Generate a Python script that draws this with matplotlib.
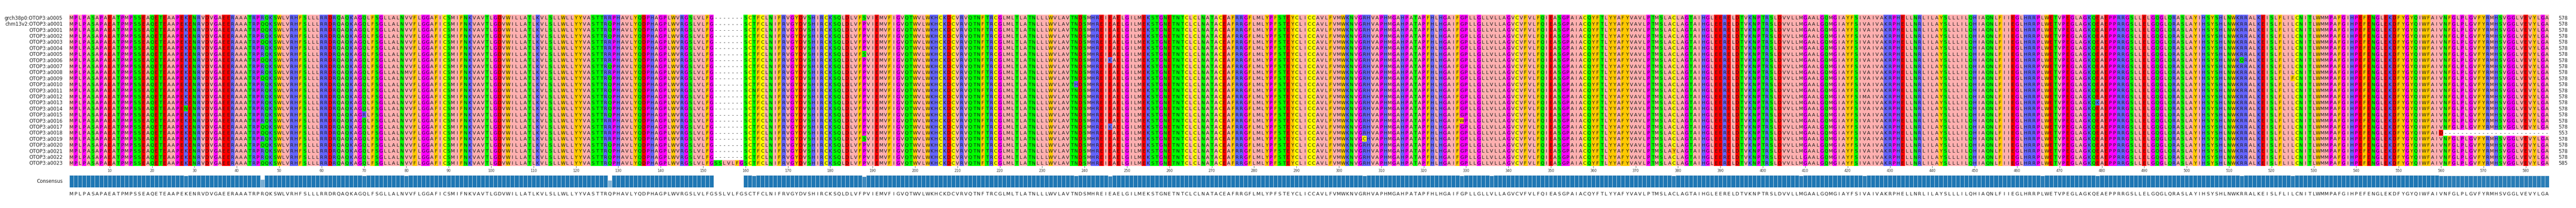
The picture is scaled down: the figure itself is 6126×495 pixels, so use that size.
import numpy as np
import matplotlib
matplotlib.use("Agg")
import matplotlib.pyplot as plt
from matplotlib.colors import to_rgb

row_labels = ["grch38p0:OTOP3:a0005", "chm13v2:OTOP3:a0001"] + ["OTOP3:a%04d" % i for i in range(1, 24)]

consensus_chunks = [
    "MPLPASAPAEATPMPSSEAQETE",
    "AAPEKENRVDVGAEERAAATRPRQKSWLVRHFSLLLRRDRQAQKAGQLFSGLLALNVVF",
    "LGGAFICSMIFNKVAVTLGDVWILLATLKVLSLLWLLYYVASTTRQPHAVLYQDPHA",
    "GPLWVRGSLVLFGSSLVLFGSCTFCLNIFRVGYDVSHIRCKSQLDLVFPVIEMVFIGV",
    "QTWVLWKHCKDCVRVQTNFTRCGLMLTLATNLLLWVLAVTNDSMHREIEAELGILMEK",
    "STGNETNTCLCLNATACEAFRRGFLMLYPFSTEYCLICCAVLFVMWKNVGRHVAPHMG",
    "AHPATAPFHLHGAIFGPLLGLLVLLAGVCVFVLFQIEASGPAIACQYFTLYYAFYVAV",
    "LPTMSLACLAGTAIHGLEERELDTVKNPTRSLDVVLLMGAALGQMGIAYFSIVAIVAK",
    "RPHELLNRLILAYSLLLILQHIAQNLFIIEGLHRRPLWETVPEGLAGKQEAEPPRRGS",
    "LLELGQGLQRASLAYIHSYSHLNWKRRALKEISLFLILCNITLWMMPAFGIHPEFENGLEKD",
    "FYGYQIWFAIVNFGLPLGVFYRMHSVGGLVEVYLGA",
]
# single-residue substitutions: (row, column, residue)
variants = [
    (15, 28, "N"), (16, 70, "R"), (9, 80, "M"),
    (12, 162, "N"), (0, 188, "S"), (6, 188, "S"), (20, 188, "S"),
    (11, 238, "H"), (7, 246, "K"), (18, 246, "K"), (20, 306, "C"),
    (17, 329, "W"), (21, 336, "L"), (22, 379, "Y"), (23, 409, "L"),
    (13, 424, "M"), (8, 466, "V"), (14, 479, "K"), (7, 513, "Q"), (10, 525, "F"),
    (19, 560, "D"),
]
q46_rows = [1, 2, 4, 7, 10, 18, 19, 21, 24]
r128_rows = [0, 4, 5, 6, 7, 9, 17, 18, 19, 20]
insert_cols = (153, 159)      # present only in last row
insert_row = 24
trunc_row, trunc_from = 19, 561   # gaps from this column on
row_lengths = [578] * 19 + [553] + [578] * 4 + [585]

zappo = {}
for a in "ILVAM": zappo[a] = "#ffafaf"
for a in "FWY": zappo[a] = "#ffc800"
for a in "KRH": zappo[a] = "#6464ff"
for a in "DE": zappo[a] = "#ff0000"
for a in "STNQ": zappo[a] = "#00ff00"
for a in "PG": zappo[a] = "#ff00ff"
zappo["C"] = "#ffff00"
zappo["-"] = "#ffffff"

cons = "".join(consensus_chunks)
L = len(cons)
N = len(row_labels)
seqs = [list(cons) for _ in range(N)]
for r in range(N):
    if r != insert_row:
        for c in range(insert_cols[0], insert_cols[1] + 1):
            seqs[r][c - 1] = "-"
for r in q46_rows: seqs[r][45] = "Q"
for r in r128_rows: seqs[r][127] = "R"
for r, c, a in variants: seqs[r][c - 1] = a
for c in range(trunc_from, L + 1): seqs[trunc_row][c - 1] = "-"

W, H = 6126, 495
fig = plt.figure(figsize=(W / 100, H / 100), dpi=100)
x0, x1 = 165 / W, 6062 / W
ax = fig.add_axes([x0, 1 - 395 / H, x1 - x0, 360 / H])
img = np.array([[to_rgb(zappo[a]) for a in s] for s in seqs])
ax.imshow(img, aspect="auto", extent=(0.5, L + 0.5, N - 0.5, -0.5), interpolation="nearest")
for r in range(N):
    for c in range(L):
        ax.text(c + 1, r + 0.08, seqs[r][c], ha="center", va="center", fontsize=8.2, color="#1a1a1a")
    ax.text(-1.1, r + 0.08, row_labels[r], ha="right", va="center", fontsize=8.3, color="#222")
    ax.text(L + 2.7, r + 0.08, str(row_lengths[r]), ha="left", va="center", fontsize=8.3, color="#222")
ax.set_xlim(0.5, L + 0.5)
ax.set_ylim(N - 0.5, -0.5)
ax.set_yticks([])
ax.set_xticks(range(10, L + 1, 10))
ax.tick_params(axis="x", labelsize=6, length=3, width=0.6, pad=2, colors="#333")
for s in ax.spines.values():
    s.set_visible(False)

# consensus
bx = fig.add_axes([x0, 1 - 446 / H, x1 - x0, 29 / H])
cons_frac = []
for c in range(L):
    col = [s[c] for s in seqs]
    vals, counts = np.unique(col, return_counts=True)
    top = vals[np.argmax(counts)]
    cons_frac.append(0.0 if top == "-" else counts.max() / N)
cons_frac = np.array(cons_frac)
base = np.array(to_rgb("#1f77b4"))
cols = [tuple(base + (1 - base) * min(1, (1 - f) * 1.1)) for f in cons_frac]
bx.bar(np.arange(1, L + 1), cons_frac, width=1.0, color=cols, edgecolor="#dde6ee", linewidth=0.6)
bx.set_xlim(0.5, L + 0.5)
bx.set_ylim(0, 1)
bx.axis("off")
bx.text(-1.1, 0.5, "Consensus", ha="right", va="center", fontsize=8.3, color="#222")
for c in range(L):
    bx.text(c + 1, -0.55, cons[c], ha="center", va="center", fontsize=8.2, color="#1a1a1a")

fig.savefig("out.png", dpi=100)
